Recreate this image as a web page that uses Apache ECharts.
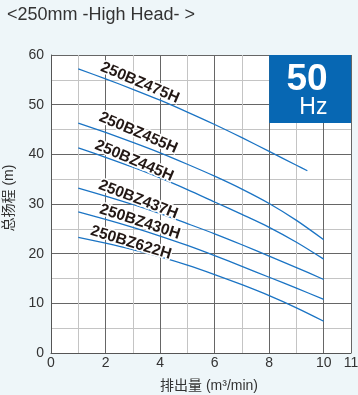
<!DOCTYPE html>
<html><head><meta charset="utf-8">
<script src="https://cdn.jsdelivr.net/npm/echarts@6/dist/echarts.min.js"></script>
<style>html,body{margin:0;padding:0;background:#eef6f9;} #c{width:358px;height:395px;}</style>
</head><body><div id="c"></div>
<script>
// ---- data ----
const chartTitle = '<250mm -High Head- >';
const xName = '排出量 (m³/min)';
const yName = '总扬程 (m)';
const xTickLabels = ['0','','2','','4','','6','','8','','10','11'];
const models = ['250BZ475H','250BZ455H','250BZ445H','250BZ437H','250BZ430H','250BZ622H'];
const flow475 = [1,2,3,4,5,6,7,8,9,9.4];
const head475 = [57.2,55.2,53.1,50.9,48.5,46.0,43.35,40.6,37.8,36.7];
const flow = [1,2,3,4,5,6,7,8,9,10];
const head455 = [46.3,44.4,42.4,40.3,38.0,35.6,33.0,30.1,26.7,22.8];
const head445 = [41.3,39.4,37.4,35.25,32.9,30.4,27.9,25.3,22.3,18.9];
const head437 = [33.2,31.6,29.9,28.05,26.05,24.0,21.8,19.5,17.2,14.8];
const head430 = [28.4,26.9,25.3,23.55,21.65,19.6,17.45,15.25,13.05,10.8];
const head622 = [23.3,22.1,20.8,19.35,17.7,15.8,13.75,11.55,9.1,6.4];
const freqText = ['50','Hz'];

// ---- layout / style ----
const layout = {
  labels: [
    {at:[3.26,54.4], rot:-23},
    {at:[3.2,44.3], rot:-23},
    {at:[3.05,38.7], rot:-23},
    {at:[3.2,30.9], rot:-21},
    {at:[3.26,26.4], rot:-18},
    {at:[2.93,22.2], rot:-17}
  ],
  box: [[8,46.3],[11,60]],
  boxText: [[9.39,55.0],[9.62,49.4]]
};
const FONT = '"Liberation Sans", Arial, "Noto Sans CJK SC", sans-serif';
const BLUE = '#1b74c4';
const DARK = '#666';
const LIGHT = '#c4c4c4';

const flows = [flow475, flow, flow, flow, flow, flow];
const heads = [head475, head455, head445, head437, head430, head622];

const series = models.map((m, i) => ({
  type: 'line',
  name: m,
  data: flows[i].map((x, j) => [x, heads[i][j]]),
  showSymbol: false,
  smooth: 0.3,
  lineStyle: {color: BLUE, width: 1.3},
  z: 3,
  markPoint: {
    symbol: 'circle', symbolSize: 0, silent: true,
    data: [{coord: layout.labels[i].at, value: m}],
    label: {
      show: true, position: 'inside', formatter: m,
      rotate: layout.labels[i].rot,
      fontFamily: FONT, fontWeight: 'bold', fontSize: 15.5, color: '#231815',
      textBorderColor: '#fff', textBorderWidth: 3
    }
  }
}));

series.push({
  type: 'line', data: [], silent: true,
  markArea: {
    silent: true,
    itemStyle: {color: '#0767b3', opacity: 1},
    data: [[{coord: layout.box[0]}, {coord: layout.box[1]}]]
  },
  markPoint: {
    symbol: 'circle', symbolSize: 0, silent: true,
    data: [
      {coord: layout.boxText[0], value: freqText[0],
        label: {fontSize: 37, fontWeight: 'bold'}},
      {coord: layout.boxText[1], value: freqText[1],
        label: {fontSize: 23, fontWeight: 'normal'}}
    ],
    label: {show: true, position: 'inside', color: '#fff', fontFamily: FONT,
      formatter: p => p.value}
  },
  z: 4
});

const xColors = xTickLabels.map((t, i) => (i % 2 === 0 || i === xTickLabels.length - 1) ? DARK : LIGHT);

const chart = echarts.init(document.getElementById('c'), null, {renderer: 'canvas'});
chart.setOption({
  backgroundColor: '#eef6f9',
  animation: false,
  title: {text: chartTitle, left: 2, top: 1,
    textStyle: {fontFamily: FONT, fontSize: 18, fontWeight: 'normal', color: '#333'}},
  grid: {left: 51, right: 7, top: 55, bottom: 42, show: true, containLabel: false,
    outerBoundsMode: 'none',
    backgroundColor: '#fff', borderWidth: 0},
  xAxis: {
    type: 'value', min: 0, max: 11, interval: 1,
    name: xName, nameLocation: 'middle', nameGap: 26,
    nameTextStyle: {fontFamily: FONT, fontSize: 14, color: '#333', padding: [0,0,0,16]},
    axisLine: {show: true, lineStyle: {color: '#555', width: 1}},
    axisTick: {show: false},
    axisLabel: {fontFamily: FONT, fontSize: 14, color: '#333', margin: 3,
      formatter: (v) => xTickLabels[Math.round(v)] || ''},
    splitLine: {show: true, lineStyle: {color: xColors, width: 1}}
  },
  yAxis: {
    type: 'value', min: 0, max: 60, interval: 10,
    name: yName, nameLocation: 'middle', nameGap: 35,
    nameTextStyle: {fontFamily: FONT, fontSize: 14, color: '#333', padding: [0,0,0,12]},
    axisLine: {show: true, lineStyle: {color: '#555', width: 1}},
    axisTick: {show: false},
    axisLabel: {fontFamily: FONT, fontSize: 14, color: '#333', margin: 7},
    splitLine: {show: true, lineStyle: {color: DARK, width: 1}},
    minorTick: {show: false, splitNumber: 2},
    minorSplitLine: {show: true, lineStyle: {color: LIGHT, width: 1}}
  },
  series: series
});
</script></body></html>
